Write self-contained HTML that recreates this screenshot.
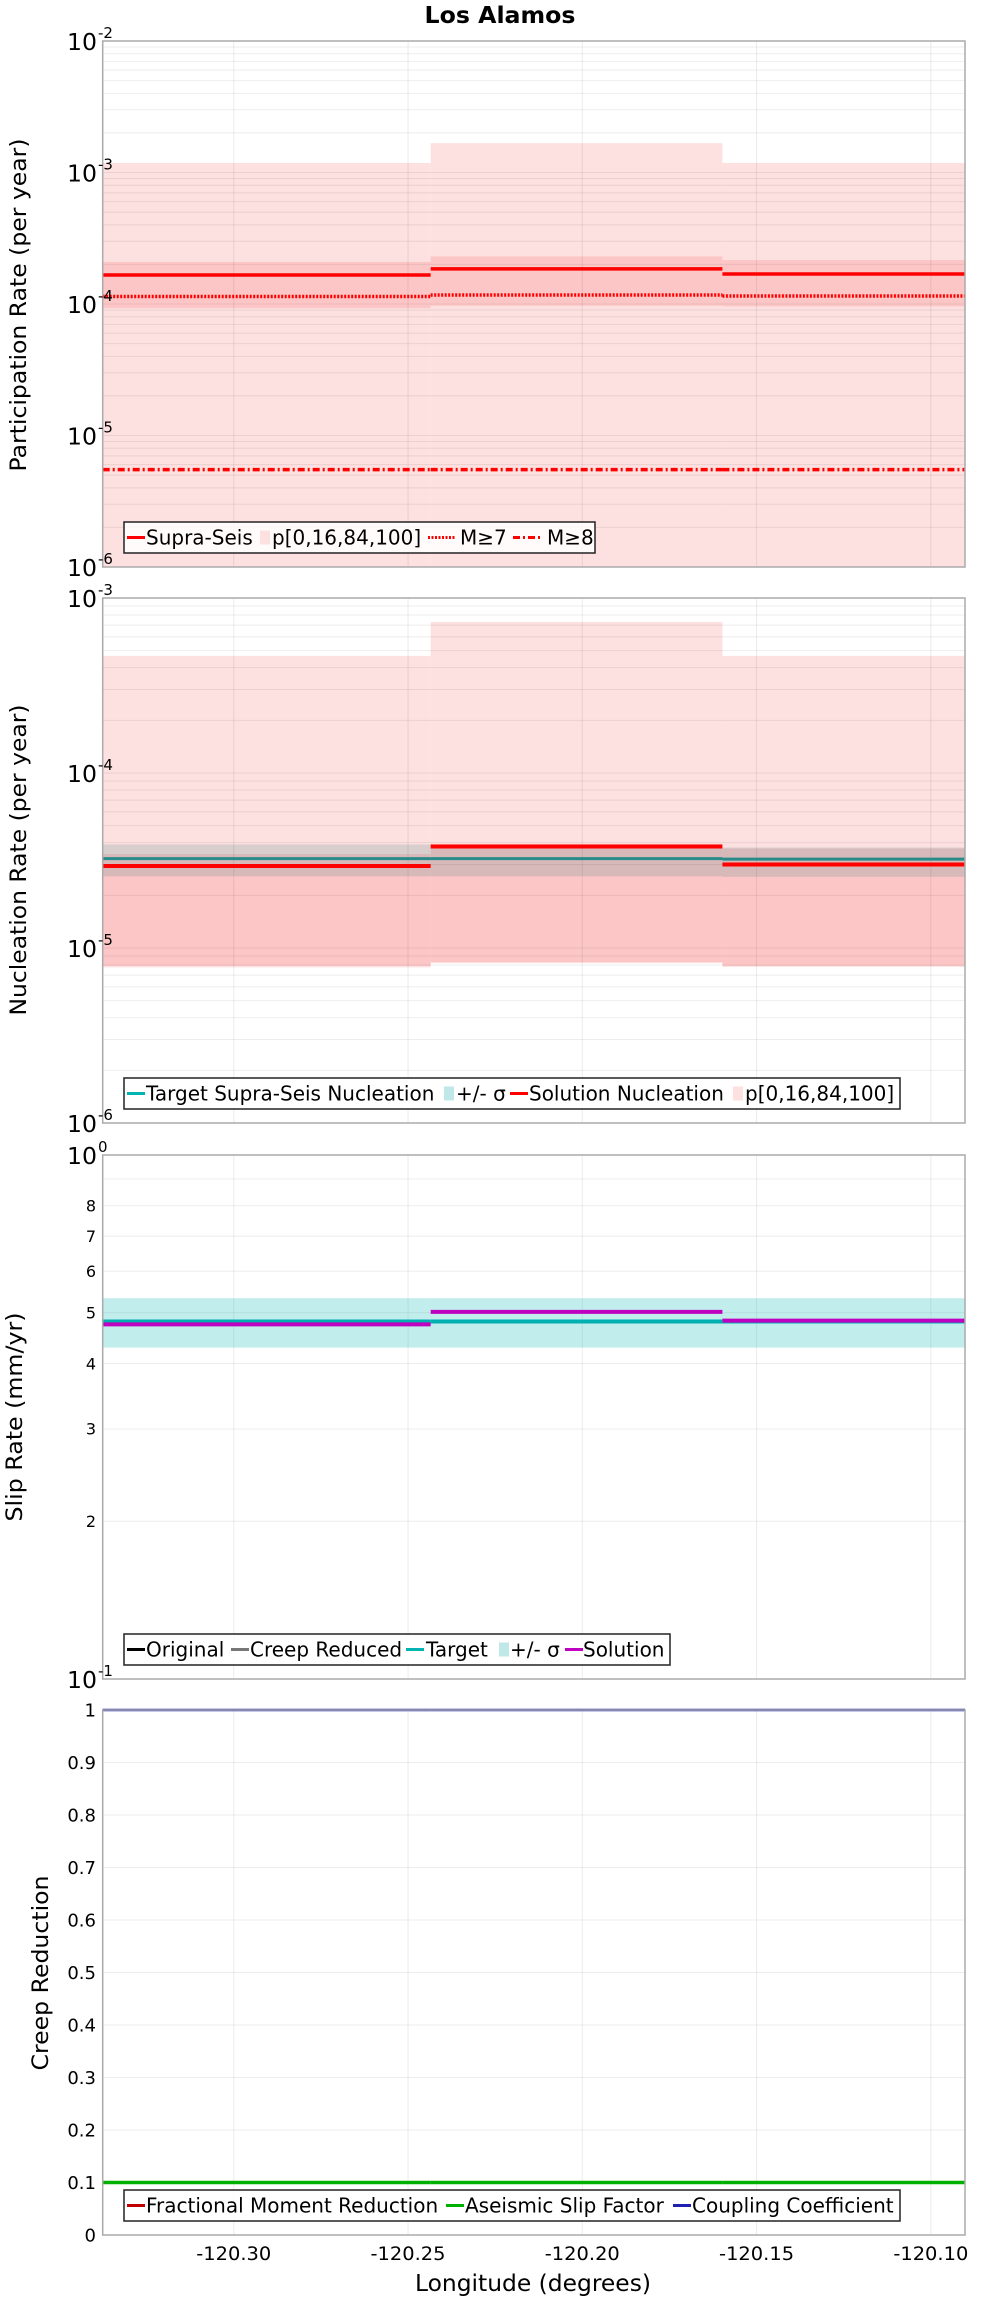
<!DOCTYPE html>
<html><head><meta charset="utf-8"><style>
html,body{margin:0;padding:0;background:#fff;}
svg{display:block;}
text{font-family:"DejaVu Sans","Liberation Sans",sans-serif;}
</style></head><body>
<svg id="chart" width="1000" height="2300" xmlns="http://www.w3.org/2000/svg"></svg>
<script>
// ---- data ----
const binEdges = [-120.3376, -120.2435, -120.1598, -120.0902];
const lonTicks = [-120.30, -120.25, -120.20, -120.15, -120.10];
const lonTickLabels = ["-120.30", "-120.25", "-120.20", "-120.15", "-120.10"];
// participation
const partP0 = [1e-7, 1e-7, 1e-7];
const partP100 = [1.18e-3, 1.67e-3, 1.18e-3];
const partP16 = [9.3e-5, 9.7e-5, 9.6e-5];
const partP84 = [2.09e-4, 2.3e-4, 2.16e-4];
const partSupra = [1.66e-4, 1.85e-4, 1.69e-4];
const partM7 = [1.14e-4, 1.17e-4, 1.15e-4];
const partM8 = [5.5e-6, 5.5e-6, 5.5e-6];
// nucleation
const nuclP0 = [7.75e-6, 8.2e-6, 7.8e-6];
const nuclP100 = [4.67e-4, 7.3e-4, 4.67e-4];
const nuclP16 = [7.9e-6, 8.3e-6, 7.9e-6];
const nuclP84 = [3.44e-5, 3.93e-5, 3.7e-5];
const nuclTarget = [3.24e-5, 3.24e-5, 3.22e-5];
const nuclSigLo = [2.57e-5, 2.57e-5, 2.55e-5];
const nuclSigHi = [3.9e-5, 3.9e-5, 3.75e-5];
const nuclSolution = [2.94e-5, 3.8e-5, 3.0e-5];
// slip rate (mm/yr)
const slipTarget = [4.81, 4.81, 4.81];
const slipSigLo = [4.29, 4.29, 4.29];
const slipSigHi = [5.33, 5.33, 5.33];
const slipSolution = [4.75, 5.02, 4.83];
// creep
const creepAseismic = [0.1, 0.1, 0.1];
const creepCoupling = [1, 1, 1];
const slipTickVals = [2,3,4,5,6,7,8];

const NS = "http://www.w3.org/2000/svg";
const svg = document.getElementById('chart');
function mk(tag, attrs, parent){
  const e = document.createElementNS(NS, tag);
  for (const k in attrs) e.setAttribute(k, attrs[k]);
  (parent||svg).appendChild(e); return e;
}
const X0 = 102.7, X1 = 965;
const xs = lon => X0 + (lon - binEdges[0]) / (binEdges[3] - binEdges[0]) * (X1 - X0);
const logY = (top, bot, hiExp, loExp) => v => bot - (Math.log10(v) - loExp) / (hiExp - loExp) * (bot - top);
const P = [
  {top:41, bot:567, y: logY(41,567,-2,-6)},
  {top:598, bot:1123, y: logY(598,1123,-3,-6)},
  {top:1155, bot:1679, y: logY(1155,1679,1,0)},
  {top:1710, bot:2235, y: v => 2235 - v*525}
];

function frame(p, name){
  const g = mk('g', {});
  
  
  return g;
}
function vgrid(g, p){
  lonTicks.forEach(t => {
    const l = mk('line', {x1:xs(t), x2:xs(t), y1:p.top, y2:p.bot, stroke:'#000', 'stroke-opacity':0.08, 'stroke-width':1}, g);
    
    
  });
}
function hline(g, p, y){
  const l = mk('line', {x1:X0, x2:X1, y1:y, y2:y, stroke:'#000', 'stroke-opacity':0.07, 'stroke-width':1}, g);
  
  
}
function logGrid(g, p, hi, lo){
  for (let e = lo; e < hi; e++) for (let m = 1; m <= 9; m++) {
    if (m===1 && e===lo) continue;
    hline(g, p, p.y(m*Math.pow(10,e)));
  }
}
function band(g, p, lo, hi, color, name){
  for (let i = 0; i < 3; i++) {
    const yt = Math.max(p.top, p.y(hi[i])), yb = Math.min(p.bot, p.y(lo[i]));
    const r = mk('rect', {x:xs(binEdges[i]), y:yt, width:xs(binEdges[i+1])-xs(binEdges[i]), height:yb-yt, fill:color}, g);
    
    
  }
}
function steps(g, p, vals, color, w, dash, name){
  for (let i = 0; i < 3; i++) {
    const y = p.y(vals[i]);
    const a = {x1:xs(binEdges[i]), x2:xs(binEdges[i+1]), y1:y, y2:y, stroke:color, 'stroke-width':w};
    if (dash) a['stroke-dasharray'] = dash;
    const l = mk('line', a, g);
    
    
  }
}
function border(g, p){
  const r = mk('rect', {x:X0, y:p.top, width:X1-X0, height:p.bot-p.top, fill:'none', stroke:'#aaa', 'stroke-width':1.5}, g);
  
  
}
function powLabel(g, y, exp){
  const t = mk('text', {x:97, y:y+9, 'font-size':23, 'text-anchor':'end', fill:'#000', textLength:30, lengthAdjust:'spacingAndGlyphs'}, g);
  
  
  t.textContent = '10';
  const s = mk('text', {x:98, y:y-3, 'font-size':15, fill:'#000'}, g);
  
  
  s.textContent = String(exp);
}
function plainLabel(g, x, y, txt, size){
  const t = mk('text', {x:x, y:y+size*0.36, 'font-size':size, 'text-anchor':'end', fill:'#000'}, g);
  
  
  t.textContent = txt;
}
function yTitle(g, x, yc, txt, len){
  const t = mk('text', {x:0, y:0, 'font-size':22, 'text-anchor':'middle', fill:'#000', textLength:len, lengthAdjust:'spacingAndGlyphs', transform:`translate(${x},${yc}) rotate(-90)`}, g);
  
  
  t.textContent = txt;
}
function legend(g, y0, y1, x1, items){
  const lg = mk('g', {}, g);
  
  
  mk('rect', {x:124, y:y0, width:x1-124, height:y1-y0, fill:'#fff', 'fill-opacity':0.85, stroke:'#222', 'stroke-width':1.5}, lg);
  const cy = (y0+y1)/2;
  items.forEach(it => {
    const e = mk('g', {}, lg);
    
    
    if (it.box) mk('rect', {x:it.sx, y:cy-7, width:10, height:14, fill:it.color}, e);
    else { const a = {x1:it.sx, x2:it.sx+(it.sw||18), y1:cy, y2:cy, stroke:it.color, 'stroke-width':3}; if (it.dash) a['stroke-dasharray']=it.dash; mk('line', a, e); }
    const t = mk('text', {x:it.tx, y:cy+7, 'font-size':20, fill:'#000'}, e);
    t.textContent = it.label;
  });
}

// title
const title = mk('text', {x:500, y:23, 'font-size':23, 'font-weight':'bold', 'text-anchor':'middle', textLength:151, lengthAdjust:'spacingAndGlyphs'});


title.textContent = 'Los Alamos';

const PINK = '#fde0e0';
// ---- panel 1 ----
{
  const p = P[0]; const g = frame(p, 'participation-panel');
  band(g, p, partP0, partP100, PINK, 'p0-p100-band');
  band(g, p, partP16, partP84, 'rgba(250,150,150,0.35)', 'p16-p84-band');
  logGrid(g, p, -2, -6); vgrid(g, p);
  steps(g, p, partSupra, '#ff0000', 3.5, null, 'supra-seis-line');
  steps(g, p, partM7, '#ff0000', 3.5, '2,1.5', 'm7-line');
  steps(g, p, partM8, '#ff0000', 3.5, '7,3,2,3', 'm8-line');
  border(g, p);
  [-2,-3,-4,-5,-6].forEach(e => powLabel(g, p.y(Math.pow(10,e)), e));
  yTitle(g, 26, 305, 'Participation Rate (per year)', 333);
  legend(g, 522, 553, 595, [
    {sx:127, tx:146, color:'#ff0000', label:'Supra-Seis'},
    {sx:260, tx:272, color:PINK, box:true, label:'p[0,16,84,100]'},
    {sx:428, tx:460, color:'#ff0000', dash:'2,1.5', sw:28, label:'M≥7'},
    {sx:513, tx:547, color:'#ff0000', dash:'7,3,2,3', sw:28, label:'M≥8'}
  ]);
}
// ---- panel 2 ----
{
  const p = P[1]; const g = frame(p, 'nucleation-panel');
  band(g, p, nuclP0, nuclP100, PINK, 'p0-p100-band');
  band(g, p, nuclP16, nuclP84, 'rgba(250,150,150,0.35)', 'p16-p84-band');
  band(g, p, nuclSigLo, nuclSigHi, 'rgba(90,140,140,0.22)', 'target-sigma-band');
  logGrid(g, p, -3, -6); vgrid(g, p);
  steps(g, p, nuclTarget, '#2a8a8a', 3, null, 'target-nucleation-line');
  steps(g, p, nuclSolution, '#ff0000', 4, null, 'solution-nucleation-line');
  border(g, p);
  [-3,-4,-5,-6].forEach(e => powLabel(g, p.y(Math.pow(10,e)), e));
  yTitle(g, 26, 860, 'Nucleation Rate (per year)', 311);
  legend(g, 1078, 1109, 900, [
    {sx:127, tx:146, color:'#00b4b4', label:'Target Supra-Seis Nucleation'},
    {sx:444, tx:456, color:'#c0e8e8', box:true, label:'+/- σ'},
    {sx:510, tx:529, color:'#ff0000', label:'Solution Nucleation'},
    {sx:733, tx:745, color:PINK, box:true, label:'p[0,16,84,100]'}
  ]);
}
// ---- panel 3 ----
{
  const p = P[2]; const g = frame(p, 'slip-rate-panel');
  for (let m = 2; m <= 9; m++) hline(g, p, p.y(m));
  vgrid(g, p);
  band(g, p, slipSigLo, slipSigHi, 'rgba(0,180,180,0.24)', 'slip-sigma-band');
  steps(g, p, slipTarget, '#00b0b0', 4, null, 'target-slip-line');
  steps(g, p, slipSolution, '#c000c0', 4, null, 'solution-slip-line');
  border(g, p);
  powLabel(g, p.top, 0); powLabel(g, p.bot, -1);
  slipTickVals.forEach(v => plainLabel(g, 96, p.y(v), String(v), 16));
  yTitle(g, 22, 1417, 'Slip Rate (mm/yr)', 209);
  legend(g, 1634, 1665, 670, [
    {sx:127, tx:146, color:'#000', label:'Original'},
    {sx:231, tx:250, color:'#777', label:'Creep Reduced'},
    {sx:406, tx:426, color:'#00b4b4', label:'Target'},
    {sx:499, tx:510, color:'#c0e8e8', box:true, label:'+/- σ'},
    {sx:565, tx:583, color:'#c000c0', label:'Solution'}
  ]);
}
// ---- panel 4 ----
{
  const p = P[3]; const g = frame(p, 'creep-panel');
  for (let k = 1; k <= 9; k++) hline(g, p, p.y(k/10));
  vgrid(g, p);
  steps(g, p, creepAseismic, '#00b000', 3.5, null, 'aseismic-slip-line');
  steps(g, p, creepCoupling, '#2020b0', 2.5, null, 'coupling-line');
  border(g, p);
  for (let k = 0; k <= 10; k++) plainLabel(g, 96, p.y(k/10), k===0?'0':(k===10?'1':(k/10).toFixed(1)), 18);
  yTitle(g, 48, 1973, 'Creep Reduction', 195);
  legend(g, 2190, 2221, 900, [
    {sx:127, tx:146, color:'#c00000', label:'Fractional Moment Reduction'},
    {sx:446, tx:465, color:'#00b000', label:'Aseismic Slip Factor'},
    {sx:673, tx:692, color:'#2020b0', label:'Coupling Coefficient'}
  ]);
  lonTicks.forEach((t, i) => {
    const tx = mk('text', {x:xs(t), y:2260, 'font-size':19, 'text-anchor':'middle', textLength:75, lengthAdjust:'spacingAndGlyphs'});
    
    
    tx.textContent = lonTickLabels[i];
  });
  const xt = mk('text', {x:533, y:2291, 'font-size':23, 'text-anchor':'middle', textLength:236, lengthAdjust:'spacingAndGlyphs'});
  
  
  xt.textContent = 'Longitude (degrees)';
}
</script>
</body></html>
